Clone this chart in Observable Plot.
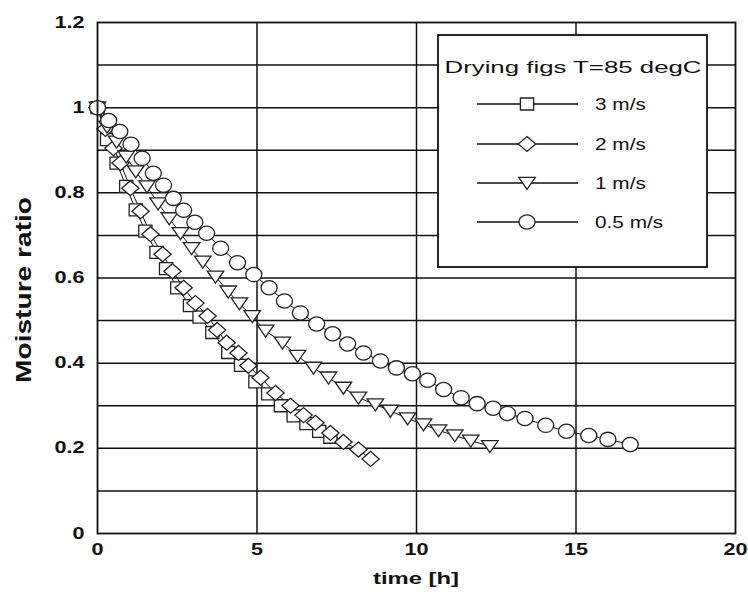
<!DOCTYPE html>
<html><head><meta charset="utf-8">
<script src="https://cdn.jsdelivr.net/npm/d3@7"></script>
<script src="https://cdn.jsdelivr.net/npm/@observablehq/plot@0.6"></script>
<style>body{margin:0;background:#fff} #chart{width:748px;height:596px}</style>
</head><body><div id="chart"></div>
<script>
// ---- data ----
const seriesNames = ["3 m/s", "2 m/s", "1 m/s", "0.5 m/s"];
const t3  = [0, 0.3, 0.6, 0.9, 1.2, 1.5, 1.85, 2.15, 2.5, 2.9, 3.2, 3.6, 4.1, 4.5, 4.95, 5.35, 5.75, 6.15, 6.55, 6.95, 7.3];
const mr3 = [1.0, 0.925, 0.87, 0.815, 0.76, 0.71, 0.66, 0.622, 0.577, 0.535, 0.508, 0.472, 0.425, 0.395, 0.356, 0.328, 0.3, 0.276, 0.258, 0.24, 0.226];
const t2  = [0, 0.25, 0.5, 0.72, 1.03, 1.35, 1.66, 2.04, 2.35, 2.7, 3.07, 3.45, 3.75, 4.05, 4.42, 4.73, 5.11, 5.58, 6.05, 6.46, 6.83, 7.3, 7.71, 8.18, 8.56];
const mr2 = [1.0, 0.95, 0.905, 0.87, 0.811, 0.757, 0.703, 0.656, 0.616, 0.577, 0.541, 0.511, 0.478, 0.448, 0.424, 0.394, 0.366, 0.33, 0.3, 0.278, 0.26, 0.236, 0.215, 0.197, 0.175];
const t1  = [0, 0.3, 0.6, 0.9, 1.2, 1.55, 1.9, 2.25, 2.6, 2.95, 3.3, 3.7, 4.1, 4.45, 4.85, 5.27, 5.8, 6.27, 6.77, 7.24, 7.71, 8.18, 8.71, 9.18, 9.72, 10.22, 10.69, 11.2, 11.7, 12.3];
const mr1 = [1.0, 0.955, 0.92, 0.885, 0.85, 0.815, 0.775, 0.74, 0.705, 0.67, 0.638, 0.603, 0.568, 0.54, 0.51, 0.476, 0.448, 0.417, 0.389, 0.366, 0.342, 0.319, 0.303, 0.288, 0.27, 0.256, 0.242, 0.23, 0.218, 0.205];
const t05  = [0, 0.35, 0.7, 1.05, 1.4, 1.75, 2.07, 2.38, 2.7, 3.05, 3.42, 3.86, 4.39, 4.9, 5.38, 5.86, 6.36, 6.87, 7.37, 7.84, 8.34, 8.87, 9.37, 9.87, 10.35, 10.85, 11.4, 11.9, 12.4, 12.85, 13.4, 14.05, 14.7, 15.4, 16.0, 16.7];
const mr05 = [1.0, 0.97, 0.944, 0.914, 0.881, 0.846, 0.818, 0.787, 0.759, 0.731, 0.705, 0.67, 0.636, 0.608, 0.577, 0.546, 0.518, 0.492, 0.469, 0.445, 0.424, 0.405, 0.389, 0.375, 0.36, 0.338, 0.319, 0.305, 0.294, 0.282, 0.27, 0.254, 0.24, 0.23, 0.221, 0.209];
const xTicks = [0, 5, 10, 15, 20];
const yTicks = [0, 0.2, 0.4, 0.6, 0.8, 1.0, 1.2];
const xGrid = [5, 10, 15];
const yGrid = [0.1, 0.2, 0.3, 0.4, 0.5, 0.6, 0.7, 0.8, 0.9, 1.0, 1.1];
const legendTitle = "Drying figs T=85 degC";
const xLabel = "time [h]";
const yLabel = "Moisture ratio";

// ---- marker shapes ----
const K = 0.5523;
const rOf = s => Math.sqrt(s / Math.PI);
const symCircle = {draw(c, s) { const r = rOf(s), rx = r * 1.07, ry = r * 0.95;
  c.moveTo(rx, 0);
  c.bezierCurveTo(rx, ry * K, rx * K, ry, 0, ry);
  c.bezierCurveTo(-rx * K, ry, -rx, ry * K, -rx, 0);
  c.bezierCurveTo(-rx, -ry * K, -rx * K, -ry, 0, -ry);
  c.bezierCurveTo(rx * K, -ry, rx, -ry * K, rx, 0);
  c.closePath(); }};
const symSquare = {draw(c, s) { const r = rOf(s), hx = r * 0.88, hy = r * 0.8;
  c.moveTo(-hx, -hy); c.lineTo(hx, -hy); c.lineTo(hx, hy); c.lineTo(-hx, hy); c.closePath(); }};
const symDiamond = {draw(c, s) { const r = rOf(s), hx = r * 1.15, hy = r * 1.0;
  c.moveTo(0, -hy); c.lineTo(hx, 0); c.lineTo(0, hy); c.lineTo(-hx, 0); c.closePath(); }};
const symTriDown = {draw(c, s) { const r = rOf(s), hx = r * 1.1, top = -r * 0.75, bot = r * 0.85;
  c.moveTo(-hx, top); c.lineTo(hx, top); c.lineTo(0, bot); c.closePath(); }};

const series = [
  {name: seriesNames[0], t: t3, m: mr3, sym: symSquare},
  {name: seriesNames[1], t: t2, m: mr2, sym: symDiamond},
  {name: seriesNames[2], t: t1, m: mr1, sym: symTriDown},
  {name: seriesNames[3], t: t05, m: mr05, sym: symCircle}
].map(s => ({...s, rows: s.t.map((t, i) => ({t, m: s.m[i]}))}));

const R = 7.5;
const marks = [
  Plot.ruleY(yGrid, {stroke: "#111", strokeWidth: 1.5}),
  Plot.ruleX(xGrid, {stroke: "#111", strokeWidth: 1.5})
];
for (const s of series) marks.push(Plot.line(s.rows, {x: "t", y: "m", stroke: "#111", strokeWidth: 1}));
for (const s of series) marks.push(Plot.dot(s.rows, {x: "t", y: "m", r: R, symbol: s.sym, fill: "white", stroke: "#222", strokeWidth: 1.3}));
marks.push(Plot.frame({stroke: "#111", strokeWidth: 1.8}));

const plot = Plot.plot({
  width: 748, height: 596,
  marginTop: 22, marginBottom: 63, marginLeft: 97, marginRight: 13,
  style: {fontFamily: "'Liberation Sans', Arial, sans-serif", fontSize: "16px", fontWeight: "bold", color: "#111", background: "white"},
  x: {domain: [0, 20], ticks: xTicks, tickSize: 0, tickPadding: 10, label: null, tickFormat: d => String(d)},
  y: {domain: [0, 1.2], ticks: yTicks, tickSize: 0, tickPadding: 13, label: null, tickFormat: d => String(+d.toFixed(1))},
  marks
});
document.getElementById("chart").appendChild(plot);

// stretch tick labels horizontally, like the reference
const SX = 1.35;
plot.querySelectorAll("text").forEach(el => {
  const tr = el.getAttribute("transform");
  if (tr) el.setAttribute("transform", tr + ` scale(${SX},1)`);
});

const svg = d3.select(plot);
const font = "'Liberation Sans', Arial, sans-serif";
// axis titles
svg.append("text").attr("transform", `translate(416,578) scale(1.4,1)`)
  .attr("text-anchor", "middle").attr("dy", "0.35em")
  .style("font", `bold 17px ${font}`).attr("fill", "#111").text(xLabel);
svg.append("text").attr("transform", `translate(23,290) rotate(-90) scale(1,1.3)`)
  .attr("text-anchor", "middle").attr("dy", "0.35em")
  .attr("textLength", 186).attr("lengthAdjust", "spacingAndGlyphs")
  .style("font", `bold 17px ${font}`).attr("fill", "#111").text(yLabel);

// legend
const lg = svg.append("g");
lg.append("rect").attr("x", 438).attr("y", 35).attr("width", 269).attr("height", 232)
  .attr("fill", "white").attr("stroke", "#111").attr("stroke-width", 1.8);
lg.append("text").attr("x", 573).attr("y", 67).attr("text-anchor", "middle").attr("dy", "0.35em")
  .attr("textLength", 257).attr("lengthAdjust", "spacingAndGlyphs")
  .style("font", `17px ${font}`).attr("fill", "#111").text(legendTitle);
const rowsY = [104, 144, 183, 222];
series.forEach((s, i) => {
  const y = rowsY[i];
  lg.append("line").attr("x1", 477).attr("x2", 578).attr("y1", y).attr("y2", y)
    .attr("stroke", "#111").attr("stroke-width", 1.3);
  lg.append("path").attr("transform", `translate(527,${y})`)
    .attr("d", d3.symbol(s.sym, Math.PI * R * R)())
    .attr("fill", "white").attr("stroke", "#222").attr("stroke-width", 1.3);
  lg.append("text").attr("transform", `translate(595,${y}) scale(1.3,1)`).attr("dy", "0.35em")
    .attr("text-anchor", "start")
    .style("font", `16px ${font}`).attr("fill", "#111").text(s.name);
});
</script></body></html>
